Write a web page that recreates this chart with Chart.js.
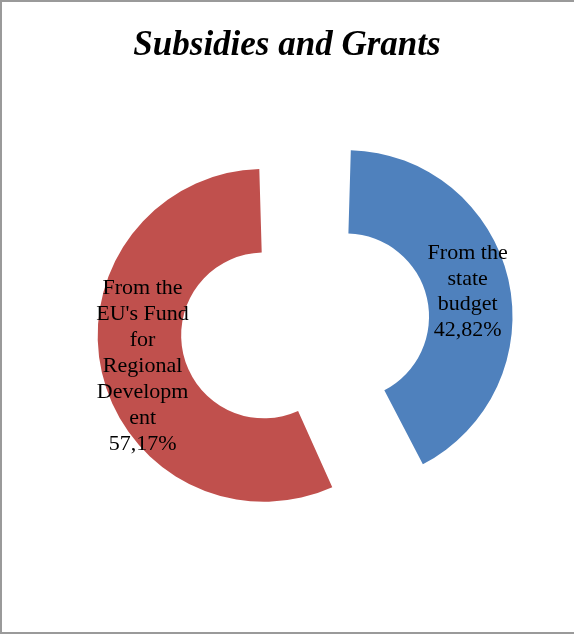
<!DOCTYPE html>
<html>
<head>
<meta charset="utf-8">
<script src="https://cdn.jsdelivr.net/npm/chart.js@4/dist/chart.umd.min.js"></script>
<style>
  body { margin: 0; background: #fff; }
  #wrap { position: relative; width: 574px; height: 634px; }
  #mycanvas { position: absolute; left: 0; top: 0; }
  #frame {
    position: absolute; left: 0; top: 0; width: 574px; height: 634px;
    box-sizing: border-box; pointer-events: none;
    border-left: 2px solid #9a9a9a; border-top: 2px solid #9a9a9a; border-bottom: 2px solid #9a9a9a;
  }
</style>
</head>
<body>
<div id="wrap">
  <canvas id="mycanvas" width="574" height="634"></canvas>
  <div id="frame"></div>
</div>
<script>
var chartTitle = 'Subsidies and Grants';
var categories = ['From the state budget', "From the EU's Fund for Regional Development"];
var shares = [42.82, 57.17];
var nameLines = [
	['From the', 'state', 'budget'],
	['From the', "EU's Fund", 'for', 'Regional', 'Developm', 'ent']
];
var colors = ['#4F81BD', '#C0504D'];
// how far each slice is pulled out of the ring (chart.js offset units)
var explode = [215, 121];

// title drawn centred on the whole canvas, not on the chart area
var centredTitle = {
	id: 'centredTitle',
	afterDraw: function(chart) {
		var ctx = chart.ctx;
		ctx.save();
		ctx.font = 'italic bold 35px "Liberation Serif", "Times New Roman", serif';
		ctx.fillStyle = '#000';
		ctx.textAlign = 'center';
		ctx.textBaseline = 'middle';
		ctx.fillText(chartTitle, chart.width / 2, 46);
		ctx.restore();
	}
};

// draws the text of each slice in the middle of the (moved) ring piece
var sliceLabels = {
	id: 'sliceLabels',
	afterDatasetsDraw: function(chart) {
		var ctx = chart.ctx;
		var meta = chart.getDatasetMeta(0);
		ctx.save();
		ctx.font = '22px "Liberation Serif", "Times New Roman", serif';
		ctx.fillStyle = '#000';
		ctx.textAlign = 'center';
		ctx.textBaseline = 'middle';
		meta.data.forEach(function(arc, i) {
			var p = arc.getProps(['x', 'y', 'startAngle', 'endAngle', 'innerRadius', 'outerRadius', 'circumference'], true);
			var mid = (p.startAngle + p.endAngle) / 2;
			var off = (arc.options.offset || 0) / 4;
			var fix = 1 - Math.sin(Math.min(Math.PI, p.circumference || 0));
			var r = off + off * fix + (p.innerRadius + p.outerRadius) / 2;
			var cx = p.x + Math.cos(mid) * r;
			var cy = p.y + Math.sin(mid) * r + 3;
			var lines = nameLines[i].concat([shares[i].toFixed(2).replace('.', ',') + '%']);
			var lh = 25.9;
			var y0 = cy - (lines.length - 1) * lh / 2;
			for (var k = 0; k < lines.length; k++) {
				ctx.fillText(lines[k], cx, y0 + k * lh);
			}
		});
		ctx.restore();
	}
};

var ctx = document.getElementById('mycanvas');

var chartdata = {
	labels: categories,
	datasets: [
		{
			data: shares,
			backgroundColor: colors,
			borderWidth: 0,
			offset: explode,
			clip: false
		}
	]
};

var PieGraph = new Chart(ctx, {
	type: 'doughnut',
	data: chartdata,
	options: {
		responsive: false,
		animation: false,
		radius: 136.2,
		cutout: '38.7%',
		layout: { padding: { top: 70, left: 13.2, right: 0, bottom: 46.8 } },
		plugins: {
			legend: { display: false },
			tooltip: { enabled: false },
			title: { display: false }
		}
	},
	plugins: [sliceLabels, centredTitle]
});
</script>
</body>
</html>
